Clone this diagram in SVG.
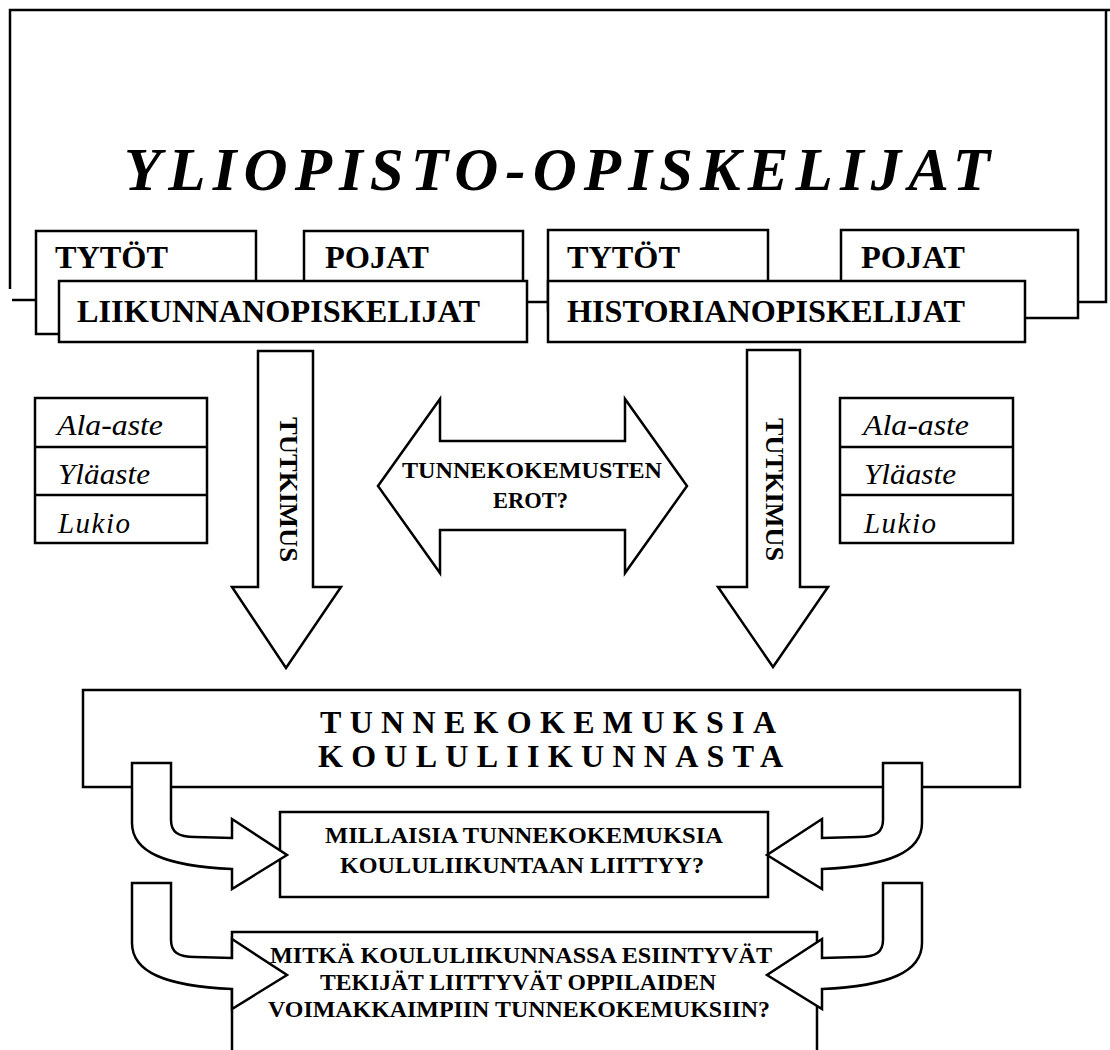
<svg xmlns="http://www.w3.org/2000/svg" width="1110" height="1050" viewBox="0 0 1110 1050">
<style>
.ln{fill:none;stroke:#000;stroke-width:2.5}
.bx{fill:#fff;stroke:#000;stroke-width:2.5}
.b{font-family:"Liberation Serif","Times New Roman",serif;font-weight:bold;fill:#000}
.i{font-family:"Liberation Serif","Times New Roman",serif;font-style:italic;fill:#000}
</style>
<defs>
<path id="curv" d="M132,763 L171,763 L171,820 C171,832 178,837 195,837 L232,838 L232,819 L287,855 L232,889 L232,869 C165,866 132,852 132,823 Z"/>
</defs>
<rect width="1110" height="1050" fill="#fff"/>

<g id="connectors">
<path class="ln" d="M10,289 L10,10 L1110,10"/>
<path class="ln" d="M1106,10 L1106,302 L1078,302"/>
<line class="ln" x1="12" y1="300" x2="36" y2="300"/>
<line class="ln" x1="527" y1="302" x2="548" y2="302"/>
</g>

<g id="title">
<text class="b" x="124" y="190" font-size="61" font-style="italic" textLength="866" lengthAdjust="spacing">YLIOPISTO-OPISKELIJAT</text>
</g>

<g id="tytot-l"><rect class="bx" x="36" y="231" width="220" height="103"/>
<text class="b" x="55" y="268" font-size="31" textLength="113" lengthAdjust="spacingAndGlyphs">TYTÖT</text></g>
<g id="pojat-l"><rect class="bx" x="304" y="231" width="219" height="80"/>
<text class="b" x="325" y="268" font-size="31" textLength="104" lengthAdjust="spacingAndGlyphs">POJAT</text></g>
<g id="liikunta"><rect class="bx" x="59" y="281" width="468" height="61"/>
<text class="b" x="77" y="322" font-size="32" textLength="403" lengthAdjust="spacingAndGlyphs">LIIKUNNANOPISKELIJAT</text></g>

<g id="tytot-r"><rect class="bx" x="548" y="230" width="220" height="80"/>
<text class="b" x="567" y="268" font-size="31" textLength="113" lengthAdjust="spacingAndGlyphs">TYTÖT</text></g>
<g id="pojat-r"><rect class="bx" x="841" y="230" width="237" height="88"/>
<text class="b" x="861" y="268" font-size="31" textLength="104" lengthAdjust="spacingAndGlyphs">POJAT</text></g>
<g id="historia"><rect class="bx" x="548" y="281" width="477" height="61"/>
<text class="b" x="567" y="322" font-size="32" textLength="398" lengthAdjust="spacingAndGlyphs">HISTORIANOPISKELIJAT</text></g>

<g id="levels-l">
<rect class="bx" x="35" y="398" width="172" height="145"/>
<line class="ln" x1="35" y1="447" x2="207" y2="447"/>
<line class="ln" x1="35" y1="495" x2="207" y2="495"/>
<text class="i" x="57" y="435" font-size="29" textLength="106" lengthAdjust="spacingAndGlyphs">Ala-aste</text>
<text class="i" x="58" y="484" font-size="29" textLength="92" lengthAdjust="spacingAndGlyphs">Yläaste</text>
<text class="i" x="58" y="533" font-size="29" textLength="72" lengthAdjust="spacing">Lukio</text>
</g>
<g id="levels-r">
<rect class="bx" x="840" y="398" width="173" height="145"/>
<line class="ln" x1="840" y1="447" x2="1013" y2="447"/>
<line class="ln" x1="840" y1="495" x2="1013" y2="495"/>
<text class="i" x="863" y="435" font-size="29" textLength="106" lengthAdjust="spacingAndGlyphs">Ala-aste</text>
<text class="i" x="864" y="484" font-size="29" textLength="92" lengthAdjust="spacingAndGlyphs">Yläaste</text>
<text class="i" x="864" y="533" font-size="29" textLength="72" lengthAdjust="spacing">Lukio</text>
</g>

<g id="arrow-l">
<path class="bx" d="M258,351 L313,351 L313,587 L341,587 L286,668 L232,587 L258,587 Z"/>
<text class="b" transform="translate(280,417) rotate(90)" font-size="26" textLength="145" lengthAdjust="spacingAndGlyphs">TUTKIMUS</text>
</g>
<g id="arrow-r">
<path class="bx" d="M747,350 L800,350 L800,587 L828,587 L773,667 L718,587 L747,587 Z"/>
<text class="b" transform="translate(766,418) rotate(90)" font-size="26" textLength="143" lengthAdjust="spacingAndGlyphs">TUTKIMUS</text>
</g>

<g id="erot">
<path class="bx" d="M378,486 L440,399 L440,441 L625,441 L625,399 L687,486 L625,573 L625,530 L440,530 L440,573 Z"/>
<text class="b" x="402" y="478" font-size="23" textLength="260" lengthAdjust="spacingAndGlyphs">TUNNEKOKEMUSTEN</text>
<text class="b" x="493" y="508" font-size="23" textLength="75" lengthAdjust="spacingAndGlyphs">EROT?</text>
</g>

<g id="tunnekokemuksia">
<rect class="bx" x="83" y="690" width="937" height="97"/>
<text class="b" x="320" y="733" font-size="32" textLength="456" lengthAdjust="spacing">TUNNEKOKEMUKSIA</text>
<text class="b" x="318" y="767" font-size="32" textLength="465" lengthAdjust="spacing">KOULULIIKUNNASTA</text>
</g>

<g id="millaisia">
<rect class="bx" x="280" y="812" width="488" height="85"/>
</g>
<g id="mitka">
<rect class="bx" x="232" y="932" width="585" height="130"/>
</g>

<g id="curved-arrows">
<use href="#curv" class="bx"/>
<use href="#curv" class="bx" transform="translate(1054,0) scale(-1,1)"/>
<use href="#curv" class="bx" transform="translate(0,120)"/>
<use href="#curv" class="bx" transform="translate(1054,120) scale(-1,1)"/>
</g>

<g id="millaisia-text">
<text class="b" x="325" y="843" font-size="24" textLength="398" lengthAdjust="spacingAndGlyphs">MILLAISIA TUNNEKOKEMUKSIA</text>
<text class="b" x="340" y="873" font-size="24" textLength="364" lengthAdjust="spacingAndGlyphs">KOULULIIKUNTAAN LIITTYY?</text>
</g>
<g id="mitka-text">
<text class="b" x="270" y="963" font-size="24" textLength="502" lengthAdjust="spacingAndGlyphs">MITKÄ KOULULIIKUNNASSA ESIINTYVÄT</text>
<text class="b" x="320" y="990" font-size="24" textLength="396" lengthAdjust="spacingAndGlyphs">TEKIJÄT LIITTYVÄT OPPILAIDEN</text>
<text class="b" x="268" y="1017" font-size="24" textLength="502" lengthAdjust="spacingAndGlyphs">VOIMAKKAIMPIIN TUNNEKOKEMUKSIIN?</text>
</g>
</svg>
